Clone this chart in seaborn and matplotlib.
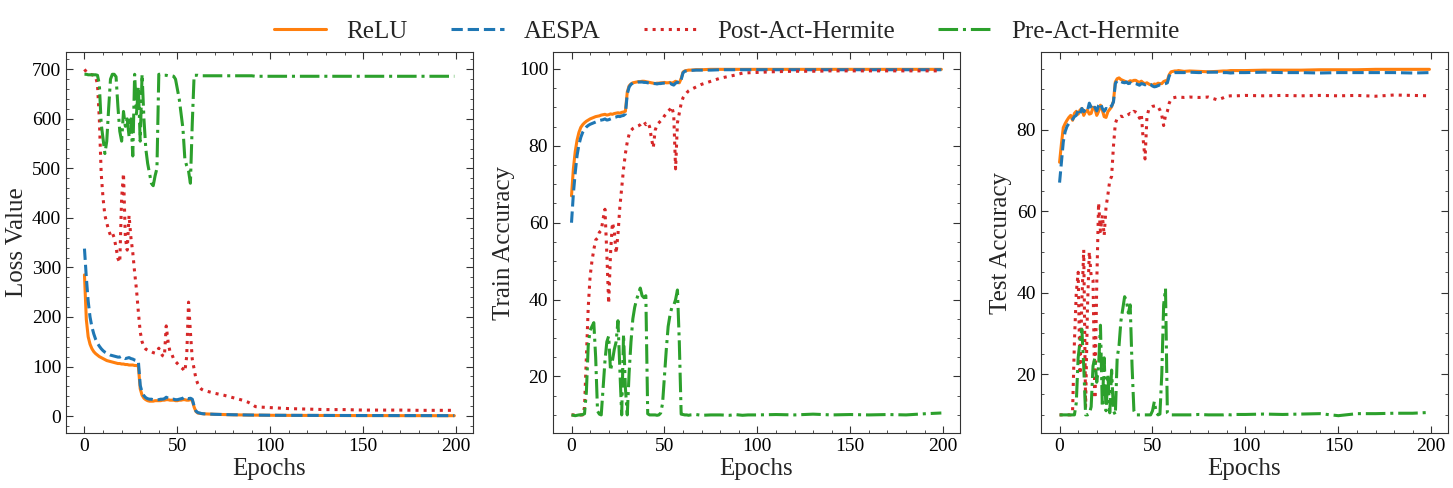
import matplotlib
matplotlib.use("Agg")
import matplotlib.pyplot as plt
import seaborn as sns
from matplotlib.ticker import AutoMinorLocator

epochs = list(range(65)) + [67, 70, 75, 80, 85, 88, 90, 92, 95, 100,
                            110, 120, 130, 140, 150, 160, 170, 180, 190, 199]

methods = ["ReLU", "AESPA", "Post-Act-Hermite", "Pre-Act-Hermite"]

# ---- Loss ----
loss_relu = [285, 195, 160, 145, 136, 130, 126, 123, 120, 118,
             116, 114, 112, 111, 110, 109, 108, 107, 106, 106,
             105, 105, 104, 104, 103, 103, 103, 102, 102, 101,
             55, 42, 36, 33, 31, 30, 30, 30, 31, 31,
             31, 31, 32, 32, 33, 33, 32, 32, 32, 31,
             31, 32, 32, 33, 33, 32, 32, 33, 32, 18,
             9, 6, 5.5, 5, 4.5,
             4, 3.5, 3, 2.5, 2.2, 2, 1.9, 1.8, 1.7, 1.5,
             1.3, 1.2, 1.1, 1.0, 0.9, 0.9, 0.8, 0.8, 0.7, 0.7]
loss_aespa = [338, 280, 232, 200, 180, 166, 155, 147, 141, 136,
              132, 129, 127, 125, 123, 122, 121, 120, 119, 119,
              121, 118, 116, 117, 118, 116, 115, 113, 112, 111,
              62, 48, 41, 37, 35, 34, 34, 33, 33, 33,
              33, 34, 34, 35, 38, 36, 35, 34, 34, 33,
              33, 34, 35, 36, 39, 36, 35, 36, 34, 20,
              10, 7, 6, 5, 4.5,
              4, 3.5, 3, 2.6, 2.3, 2.1, 2, 1.9, 1.8, 1.6,
              1.4, 1.3, 1.2, 1.1, 1.0, 1.0, 0.9, 0.9, 0.8, 0.8]
loss_post = [700, 695, 692, 690, 689, 688, 685, 670, 600, 490,
             440, 405, 390, 375, 365, 370, 360, 340, 318, 310,
             440, 490, 360, 335, 405, 360, 330, 290, 255, 210,
             170, 150, 140, 135, 133, 132, 130, 128, 127, 130,
             137, 128, 122, 120, 182, 150, 130, 125, 115, 110,
             106, 102, 98, 95, 90, 120, 230, 170, 115, 95,
             75, 65, 58, 54, 52,
             49, 46, 42, 37, 32, 28, 24, 19, 18, 17,
             15, 14, 13, 13, 12, 12, 12, 11.5, 11.5, 11.5]
loss_pre = [690, 690, 689, 689, 689, 689, 689, 688, 670, 590,
            560, 530, 555, 620, 680, 690, 690, 685, 625, 575,
            555, 615, 585, 600, 565, 600, 525, 690, 610, 665,
            555, 690, 600, 540, 510, 490, 470, 465, 485, 500,
            690, 690, 688, 688, 688, 687, 687, 687, 686, 680,
            660, 640, 610, 580, 520, 505, 495, 470, 590, 688,
            688, 688, 687, 687, 687,
            687, 687, 687, 687, 687, 687, 687, 686, 686, 686,
            686, 686, 686, 686, 686, 686, 686, 686, 686, 686]

# ---- Train accuracy ----
train_relu = [67, 74, 78.5, 81.5, 83.5, 84.8, 85.5, 86, 86.4, 86.7,
              87, 87.2, 87.4, 87.6, 87.7, 87.8, 88, 88.1, 88.2, 88,
              88.1, 88.3, 88.2, 88.4, 88.5, 88.6, 88.5, 88.7, 88.8, 89,
              94, 95.6, 96.1, 96.4, 96.5, 96.6, 96.7, 96.7, 96.8, 96.8,
              96.7, 96.6, 96.5, 96.4, 96.3, 96.2, 96.3, 96.3, 96.4, 96.4,
              96.5, 96.4, 96.4, 96.5, 96.3, 96.5, 96.8, 96.5, 96.4, 97.5,
              99.2, 99.5, 99.6, 99.7, 99.7,
              99.8, 99.8, 99.9, 99.9, 99.9, 99.9, 99.9, 99.9, 99.9, 99.9,
              99.9, 99.9, 99.9, 99.9, 99.9, 99.9, 99.9, 99.9, 99.9, 99.9]
train_aespa = [60, 67.5, 73, 77.5, 80.3, 82.2, 83.5, 84.3, 84.9, 85.3,
               85.6, 85.8, 86, 86.2, 86.4, 86.6, 86.7, 86.8, 87, 86.7,
               86.8, 87, 87.2, 87.4, 87.5, 87.7, 87.6, 87.8, 87.9, 88.3,
               93.5, 95.3, 96, 96.3, 96.4, 96.5, 96.6, 96.6, 96.6, 96.5,
               96.5, 96.4, 96.3, 96.3, 96.2, 96.2, 96.1, 96.2, 96.2, 96.3,
               96.3, 96.3, 96.2, 96.3, 96, 95.8, 96.3, 96.6, 96.2, 97.2,
               99, 99.4, 99.5, 99.6, 99.6,
               99.7, 99.7, 99.7, 99.8, 99.8, 99.8, 99.8, 99.8, 99.8, 99.8,
               99.8, 99.8, 99.8, 99.8, 99.8, 99.8, 99.8, 99.8, 99.8, 99.8]
train_post = [10, 10, 10, 10, 10, 10, 10, 12, 25, 38,
              46, 50, 53, 55.5, 56, 57.5, 58, 61, 63.5, 52,
              39, 52, 60, 58, 52, 57, 64, 69, 74, 78,
              81, 83, 84, 84.5, 84.8, 85, 85.2, 85.5, 86, 86.3,
              85.5, 86, 85, 82, 79.5, 84, 85.5, 86, 86.5, 87,
              87.8, 88.3, 89, 89.5, 90.2, 88, 74, 86, 88.5, 91,
              92.5, 93.2, 93.8, 94.3, 94.6,
              95.3, 96, 96.8, 97.6, 98.1, 98.4, 98.7, 98.9, 99, 99.1,
              99.3, 99.4, 99.4, 99.5, 99.5, 99.5, 99.5, 99.5, 99.5, 99.5]
train_pre = [10, 9.9, 9.8, 9.9, 10, 10, 10.1, 10.3, 16, 28,
             32, 33, 34, 25, 11, 10.2, 10, 17, 24, 29,
             30.5, 21.5, 24, 27, 29, 34.5, 22, 10, 31, 17,
             10, 21, 29, 35, 38, 40, 41.5, 43, 41, 40.5,
             41, 10.3, 10, 10, 10, 10, 9.9, 10, 10.5, 13,
             20, 27, 33, 36, 38, 38.5, 40, 42.5, 29, 10.2,
             10.1, 10, 10, 9.9, 10,
             10.1, 9.9, 10, 10, 9.9, 10.1, 10, 9.9, 10, 10,
             10.1, 10, 10.2, 10, 10.1, 10, 10.1, 10, 10.3, 10.5]

# ---- Test accuracy ----
test_relu = [72, 76.5, 80.5, 81.5, 82.3, 83, 83.5, 82.3, 84, 84.5,
             83.8, 84.8, 85.2, 83.5, 84.5, 84.8, 83.8, 84, 85.5, 85.2,
             83.5, 84.5, 86, 84.8, 83.2, 83, 84.4, 85, 85.6, 87,
             91.7, 92.5, 92.7, 92.3, 92.1, 91.9, 91.6, 91.7, 92, 91.9,
             92.1, 92.1, 91.8, 91.6, 91.9, 91.5, 91.3, 91.5, 91.2, 91.0,
             90.9, 91.2, 91.1, 91.4, 91.3, 91.3, 91.8, 92.0, 92.1, 93.5,
             94.2, 94.3, 94.4, 94.4, 94.5,
             94.3, 94.4, 94.3, 94.2, 94.3, 94.4, 94.4, 94.5, 94.5, 94.5,
             94.6, 94.6, 94.6, 94.7, 94.7, 94.7, 94.8, 94.8, 94.8, 94.8]
test_aespa = [67, 72, 77, 79.5, 80.8, 81.5, 82, 82.5, 83.2, 83.5,
              84.8, 84, 85.2, 84.4, 85, 84.6, 86.5, 85.5, 84.8, 85.5,
              84.6, 85.9, 86.5, 85.2, 84.5, 85.2, 84.9, 85.5, 85.8, 86.8,
              91.3, 92.0, 92.1, 91.8, 91.6, 91.5, 91.7, 91.3, 91.5, 91.2,
              91.4, 91.3, 91.1, 90.9, 91.3, 91.2, 91.0, 91.2, 91.3, 91.1,
              90.7, 90.5, 90.6, 90.8, 91.0, 90.9, 91.2, 91.3, 91.5, 93.2,
              93.8, 93.9, 94.0, 94.0, 94.0,
              94.0, 94.1, 94.0, 94.1, 94.1, 94.0, 94.0, 93.9, 94.0, 94.0,
              94.1, 94.0, 94.0, 93.9, 94.0, 94.0, 94.0, 94.0, 93.9, 94.0]
test_post = [10, 10, 10, 10, 10, 10, 10, 11, 28, 40,
             45, 20, 38, 50.5, 12, 36, 50, 44, 43, 14,
             42, 62, 55, 59, 54, 61, 64, 67.5, 68.5, 76,
             81.5, 82.8, 83.1, 83.3, 83.2, 83.5, 83.4, 83.7, 84, 83.8,
             84.5, 84.3, 84, 82.8, 83.8, 77.5, 72.8, 83, 85, 85.4,
             85.7, 85.8, 85.9, 85.6, 84.8, 83.5, 81, 83.5, 84.5, 86.5,
             87.5, 87.8, 87.9, 88, 88,
             87.9, 88, 87.9, 88, 87.3, 87.8, 88.2, 88.3, 88.3, 88.4,
             88.3, 88.4, 88.3, 88.4, 88.3, 88.4, 88.2, 88.5, 88.4, 88.3]
test_pre = [10, 10, 10, 10, 10, 10, 10, 10, 10, 13,
            24, 28, 31, 22, 10, 10, 10.2, 12, 22, 24,
            18, 22, 32, 12, 24, 11, 20, 10.5, 21, 11,
            10, 24, 27, 33, 36, 39, 38, 35, 37, 22,
            11, 10, 10, 10, 10, 10, 10, 10, 10, 10,
            11, 13.3, 10.5, 10, 10.2, 20, 37, 41, 10.5, 10,
            10, 10, 10, 10, 10,
            10, 10, 10.1, 10, 10, 10, 10.1, 10, 10.1, 10.1,
            10.2, 10.1, 10.2, 10.3, 9.8, 10.3, 10.3, 10.4, 10.4, 10.6]

colors = ["#ff7f0e", "#1f77b4", "#d62728", "#2ca02c"]
styles = ["-", "--", ":", "-."]

panels = [
    ("Loss Value", [loss_relu, loss_aespa, loss_post, loss_pre]),
    ("Train Accuracy", [train_relu, train_aespa, train_post, train_pre]),
    ("Test Accuracy", [test_relu, test_aespa, test_post, test_pre]),
]

sns.set_style("ticks")
plt.rcParams["font.family"] = ["Liberation Serif", "DejaVu Serif"]

fig = plt.figure(figsize=(14.53, 4.88), dpi=100)
lefts = [0.0454, 0.3806, 0.7165]
axes = [fig.add_axes([l, 0.1127, 0.280, 0.7807]) for l in lefts]

for ax, (ylabel, series) in zip(axes, panels):
    for name, vals, c, ls in zip(methods, series, colors, styles):
        sns.lineplot(x=epochs, y=vals, ax=ax, color=c, linestyle=ls,
                     linewidth=2.2, label=name, errorbar=None)
    ax.set_xlabel("Epochs", fontsize=18, labelpad=2)
    ax.set_ylabel(ylabel, fontsize=18, labelpad=3)
    ax.set_xticks([0, 50, 100, 150, 200])
    ax.xaxis.set_minor_locator(AutoMinorLocator())
    ax.yaxis.set_minor_locator(AutoMinorLocator())
    ax.tick_params(which="both", direction="in", top=True, right=True,
                   labelsize=14, color="#333333", labelcolor="black")
    ax.tick_params(which="major", length=5, width=0.8)
    ax.tick_params(which="minor", length=2.5, width=0.6)
    for sp in ax.spines.values():
        sp.set_linewidth(0.8)
        sp.set_color("#333333")
    ax.get_legend().remove()

handles, labels = axes[0].get_legend_handles_labels()
fig.legend(handles, labels, loc="center", bbox_to_anchor=(0.5, 0.935),
           ncol=4, frameon=False, fontsize=18, handlelength=2.1,
           handletextpad=0.8, columnspacing=1.75)

fig.savefig("out.png", dpi=100)
